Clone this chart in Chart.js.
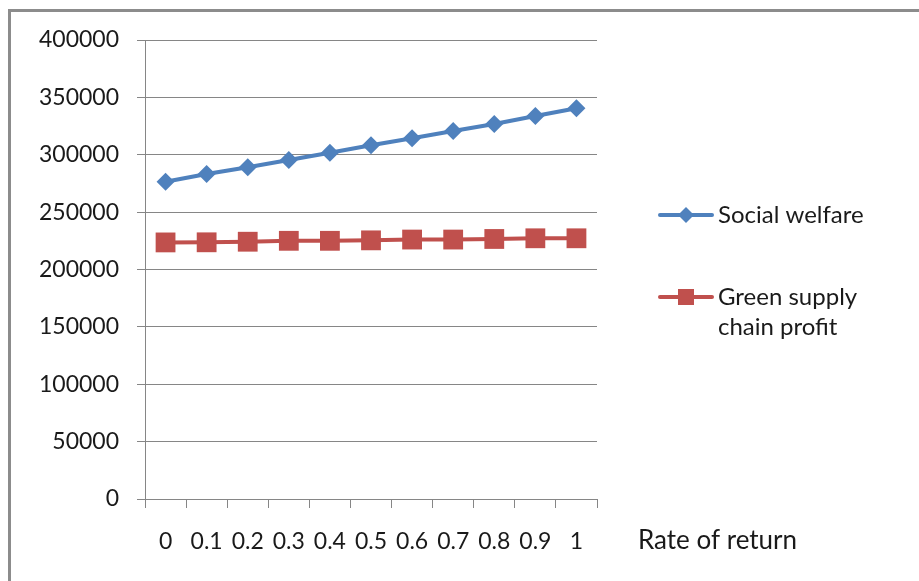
<!DOCTYPE html>
<html>
<head>
<meta charset="utf-8">
<script src="https://cdn.jsdelivr.net/npm/chart.js@4/dist/chart.umd.min.js"></script>
<style>
  body { margin: 0; background: #fff; overflow: hidden; }
  #wrap { position: relative; width: 919px; height: 581px; }
  #frame { position: absolute; left: 8px; top: 9px; width: 1000px; height: 700px; border: 3px solid #8c8c8c; box-sizing: border-box; }
  canvas { position: absolute; left: 0; top: 0; }
</style>
</head>
<body>
<div id="wrap">
  <div id="frame"></div>
  <canvas id="myChart" width="919" height="581"></canvas>
</div>
<script>
const categories = ["0", "0.1", "0.2", "0.3", "0.4", "0.5", "0.6", "0.7", "0.8", "0.9", "1"];
const socialWelfare = [276500, 283200, 289100, 295400, 301800, 308200, 314300, 320700, 326800, 333800, 340500];
const greenProfit = [223600, 223700, 224200, 225000, 225000, 225400, 226100, 226100, 226600, 227200, 227200];
const seriesNames = ["Social welfare", ["Green supply", "chain profit"]];
const xTitle = "Rate of return";

const fontFamily = "Lato, 'Open Sans', sans-serif";
const gridColor = "#868686";
const textColor = "#1a1a1a";

// legend + axis title drawn by hand, the built-in legend can't wrap like this
const extras = {
  id: "extras",
  afterDraw(chart) {
    const c = chart.ctx;
    c.save();
    const rows = [215, 297];
    chart.data.datasets.forEach((ds, i) => {
      const y = rows[i];
      c.strokeStyle = ds.borderColor;
      c.lineWidth = 4;
      c.lineCap = "round";
      c.beginPath();
      c.moveTo(660, y);
      c.lineTo(712, y);
      c.stroke();
      c.fillStyle = ds.pointBackgroundColor;
      if (ds.pointStyle === "rectRot") {
        c.beginPath();
        c.moveTo(686 - 8, y);
        c.lineTo(686, y - 8);
        c.lineTo(686 + 8, y);
        c.lineTo(686, y + 8);
        c.closePath();
        c.fill();
      } else {
        c.fillRect(686 - 8, y - 8, 16, 16);
      }
      c.fillStyle = textColor;
      c.font = "24px " + fontFamily;
      c.textBaseline = "middle";
      const lines = Array.isArray(seriesNames[i]) ? seriesNames[i] : [seriesNames[i]];
      lines.forEach((t, j) => c.fillText(t, 718, y + j * 30));
    });
    c.font = "26px " + fontFamily;
    c.fillText(xTitle, 638, 541);
    c.restore();
  },
};

const ctx = document.getElementById("myChart");
const myChart = new Chart(ctx, {
  type: "line",
  data: {
    labels: categories,
    datasets: [
      {
        label: "Social welfare",
        data: socialWelfare,
        borderColor: "#4F81BD",
        backgroundColor: "#4F81BD",
        pointBackgroundColor: "#4F81BD",
        pointBorderWidth: 0,
        borderWidth: 4,
        pointStyle: "rectRot",
        pointRadius: 9,
        tension: 0,
      },
      {
        label: "Green supply chain profit",
        data: greenProfit,
        borderColor: "#C0504D",
        backgroundColor: "#C0504D",
        pointBackgroundColor: "#C0504D",
        pointBorderWidth: 0,
        borderWidth: 4,
        pointStyle: "rect",
        pointRadius: 14,
        tension: 0,
      },
    ],
  },
  options: {
    responsive: false,
    animation: false,
    layout: { padding: { left: 0, top: 40, right: 322, bottom: 0 } },
    plugins: { legend: { display: false }, tooltip: { enabled: false } },
    scales: {
      x: {
        offset: true,
        grid: { drawOnChartArea: false, drawTicks: true, tickLength: 9, color: gridColor, offset: true },
        border: { color: gridColor, width: 1 },
        ticks: { color: textColor, padding: 20, maxRotation: 0, autoSkip: false, font: { family: fontFamily, size: 23 } },
        afterFit(scale) { scale.height = 82; },
      },
      y: {
        min: 0,
        max: 400000,
        grid: { color: gridColor, tickLength: 8 },
        border: { color: gridColor, width: 1 },
        ticks: {
          stepSize: 50000,
          color: textColor,
          padding: 18,
          font: { family: fontFamily, size: 23 },
          callback: (v) => String(v),
        },
        afterFit(scale) { scale.width = 145; },
      },
    },
  },
  plugins: [extras],
});
</script>
</body>
</html>
